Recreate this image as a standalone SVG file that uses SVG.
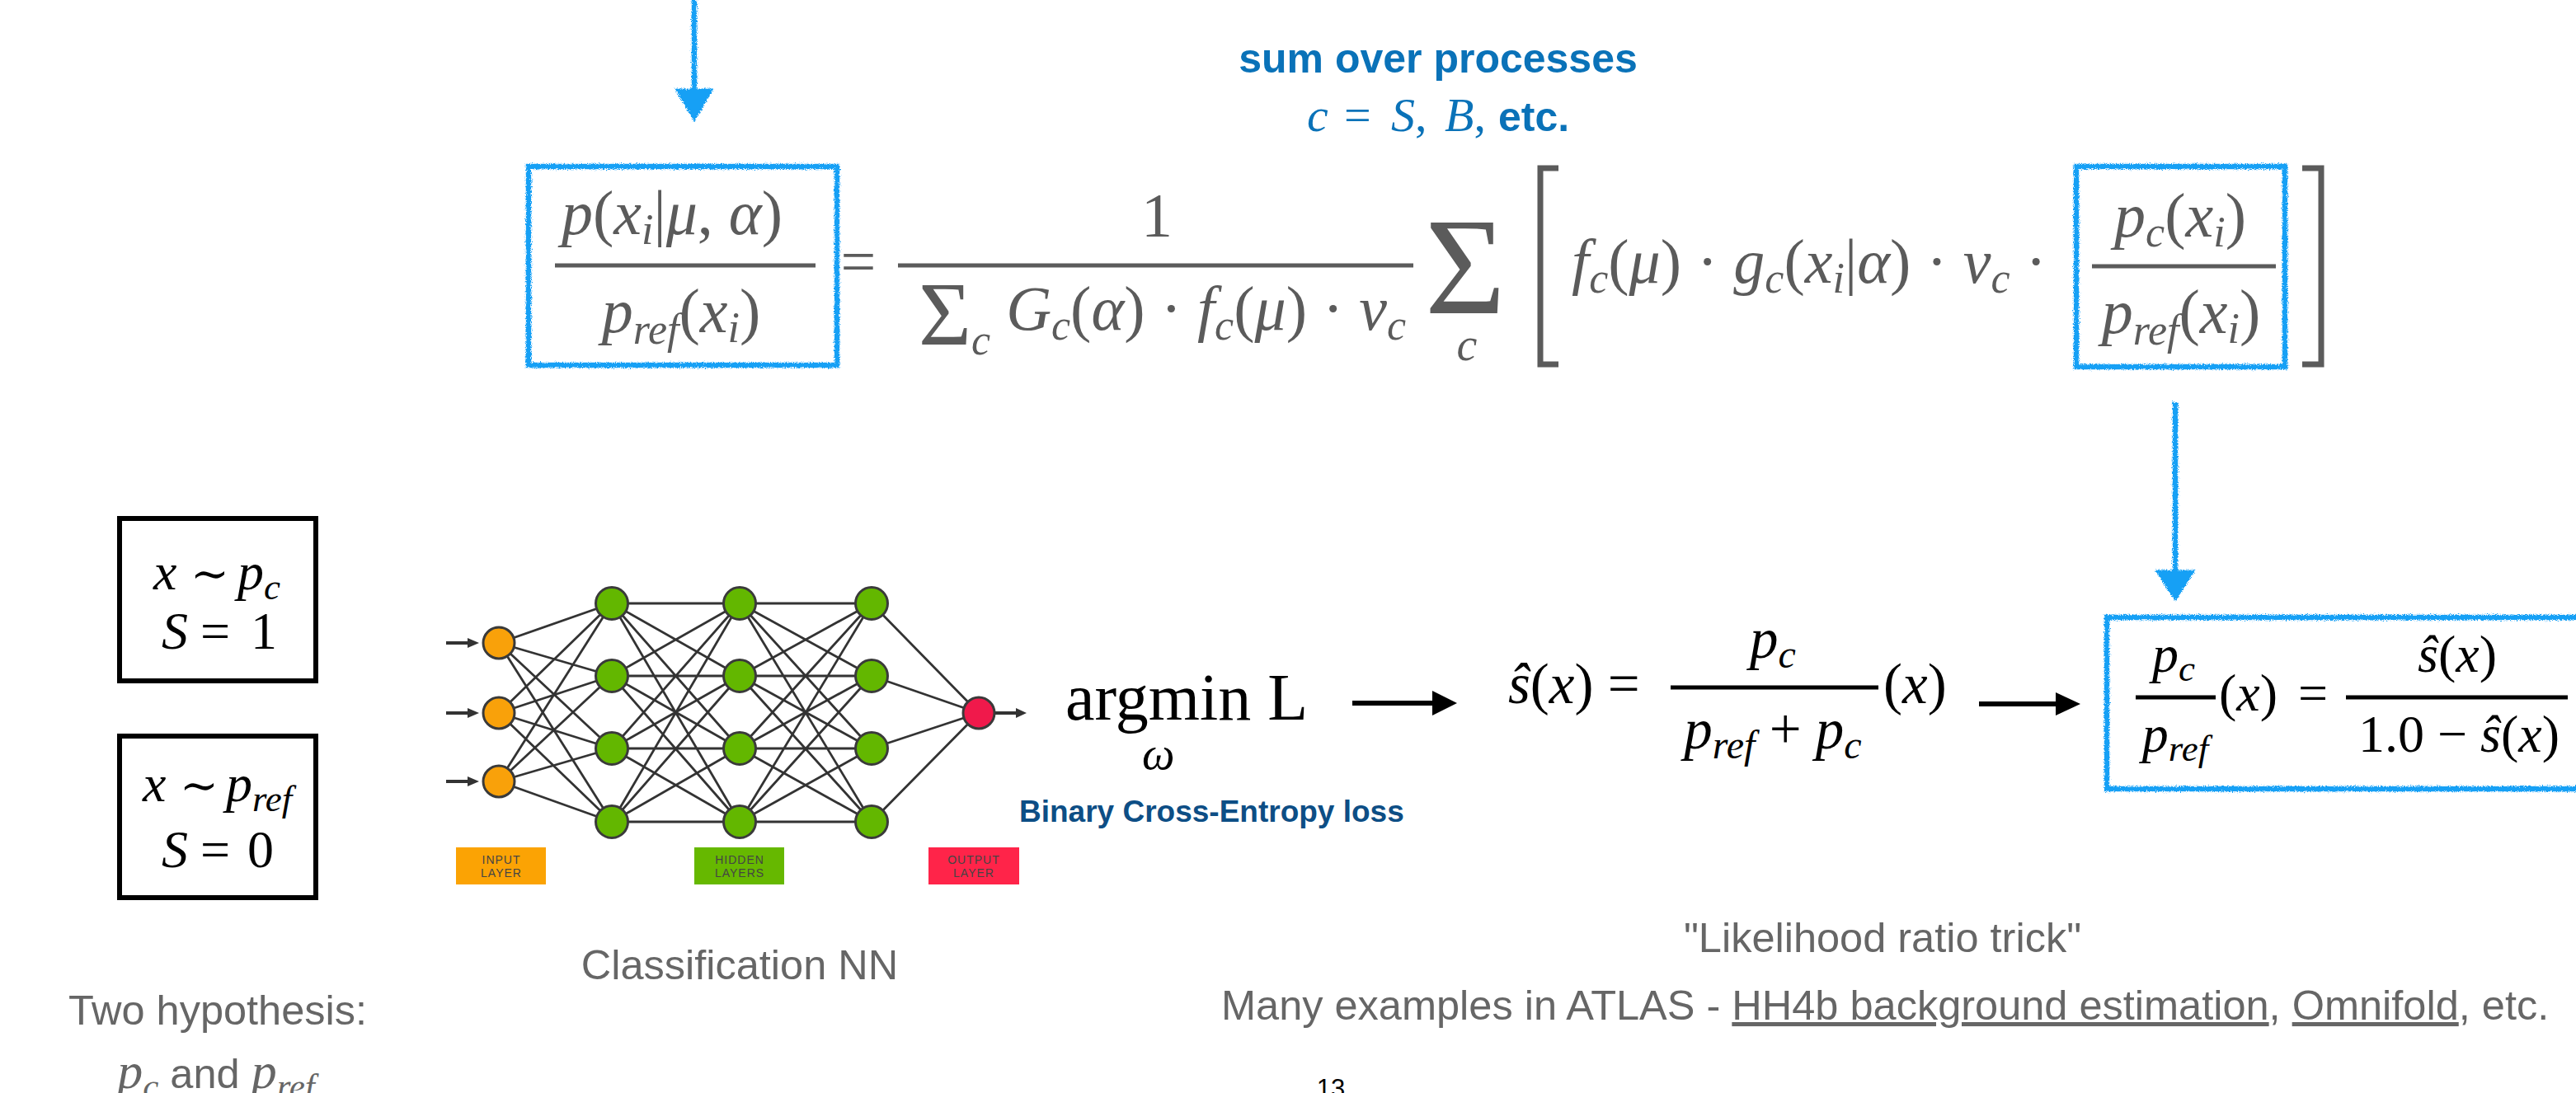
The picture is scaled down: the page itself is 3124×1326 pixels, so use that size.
<svg xmlns="http://www.w3.org/2000/svg" width="3124" height="1326" viewBox="0 0 3124 1326">
<style>
.m{font-family:"Liberation Serif","Times New Roman",serif;font-style:italic}
.u{font-style:normal}
.g{fill:#5b5b5b}
.k{fill:#000}
.s{font-family:"Liberation Sans",Arial,sans-serif}
.blue{fill:#0a72b8}
.sk{fill:none;stroke:#18a0f5;stroke-width:6.5}
.skf{fill:#18a0f5;stroke:#18a0f5;stroke-width:3}
.bar{stroke-width:5}
.edge{stroke:#333;stroke-width:2.8;fill:none}
.node{stroke:#3a3a3a;stroke-width:3}
.lbl{font-family:"Liberation Sans",Arial,sans-serif;font-size:14px;fill:#444;text-anchor:middle;letter-spacing:1px}
.cap{font-family:"Liberation Sans",Arial,sans-serif;fill:#666;font-size:50.5px}
.tl{font-family:"DejaVu Serif","Liberation Serif",serif;font-style:normal}
</style>
<defs>
<filter id="rough" filterUnits="userSpaceOnUse" x="0" y="0" width="3124" height="1326">
<feTurbulence type="fractalNoise" baseFrequency="0.9" numOctaves="2" seed="4" result="n"/>
<feDisplacementMap in="SourceGraphic" in2="n" scale="6" xChannelSelector="R" yChannelSelector="G"/>
</filter>
</defs>
<rect width="3124" height="1326" fill="#fff"/>

<!-- blue sketch annotations -->
<g id="highlights" filter="url(#rough)">
<rect class="sk" x="641" y="202" width="374" height="241"/>
<rect class="sk" x="2518" y="202" width="253" height="243"/>
<rect class="sk" x="2555" y="749" width="600" height="208"/>
</g>

<g id="connectors">
<g filter="url(#rough)">
<line class="sk" x1="842" y1="0" x2="842" y2="112"/>
<polygon class="skf" points="821,109 863,109 842,145"/>
<line class="sk" x1="2638" y1="488" x2="2638" y2="696"/>
<polygon class="skf" points="2616,693 2660,693 2638,727"/>
</g>
<line x1="1640" y1="853" x2="1740" y2="853" stroke="#000" stroke-width="6"/>
<polygon points="1737,838 1767,853 1737,868" fill="#000"/>
<line x1="2400" y1="854" x2="2496" y2="854" stroke="#000" stroke-width="6"/>
<polygon points="2493,840 2523,854 2493,868" fill="#000"/>
</g>

<!-- top equation -->
<g id="eq-top" class="m g" font-size="76">
<text x="815" y="284" text-anchor="middle">p<tspan class="u">(</tspan>x<tspan font-size="52" dy="12">i</tspan><tspan dy="-12" class="u">|</tspan>μ<tspan class="u">, </tspan>α<tspan class="u">)</tspan></text>
<line x1="673" y1="322" x2="989" y2="322" stroke="#5b5b5b" class="bar"/>
<text x="826" y="403" text-anchor="middle">p<tspan font-size="52" dy="14">ref</tspan><tspan dy="-14" class="u">(</tspan>x<tspan font-size="52" dy="12">i</tspan><tspan dy="-12" class="u">)</tspan></text>
<text x="1041" y="343" text-anchor="middle" class="u">=</text>
<text x="1403" y="287" text-anchor="middle" class="u">1</text>
<line x1="1089" y1="322" x2="1714" y2="322" stroke="#5b5b5b" class="bar"/>
<text x="1114" y="418"><tspan class="u" font-size="110">Σ</tspan><tspan font-size="52" dy="12">c</tspan><tspan dy="-30"> </tspan><tspan>G</tspan><tspan font-size="52" dy="12">c</tspan><tspan dy="-12" class="u">(</tspan>α<tspan class="u">) · </tspan>f<tspan font-size="52" dy="12">c</tspan><tspan dy="-12" class="u">(</tspan>μ<tspan class="u">) · </tspan>ν<tspan font-size="52" dy="12">c</tspan></text>
<text x="1777" y="380" text-anchor="middle" class="u" font-size="168">Σ</text>
<text x="1779" y="437" text-anchor="middle" font-size="56">c</text>
<path d="M1890,204 H1868 V442 H1890" fill="none" stroke="#5b5b5b" stroke-width="7"/>
<path d="M2792,204 H2815 V442 H2792" fill="none" stroke="#5b5b5b" stroke-width="7"/>
<text x="1906" y="343">f<tspan font-size="52" dy="12">c</tspan><tspan dy="-12" class="u">(</tspan>μ<tspan class="u">) · </tspan>g<tspan font-size="52" dy="12">c</tspan><tspan dy="-12" class="u">(</tspan>x<tspan font-size="52" dy="12">i</tspan><tspan dy="-12" class="u">|</tspan>α<tspan class="u">) · </tspan>ν<tspan font-size="52" dy="12">c</tspan><tspan dy="-12" class="u"> ·</tspan></text>
<text x="2644" y="287" text-anchor="middle">p<tspan font-size="52" dy="12">c</tspan><tspan dy="-12" class="u">(</tspan>x<tspan font-size="52" dy="12">i</tspan><tspan dy="-12" class="u">)</tspan></text>
<line x1="2537" y1="323" x2="2760" y2="323" stroke="#5b5b5b" class="bar"/>
<text x="2645" y="404" text-anchor="middle">p<tspan font-size="52" dy="14">ref</tspan><tspan dy="-14" class="u">(</tspan>x<tspan font-size="52" dy="12">i</tspan><tspan dy="-12" class="u">)</tspan></text>
</g>

<g id="sum-note" class="blue">
<text x="1744" y="88" text-anchor="middle" class="s" font-weight="bold" font-size="50">sum over processes</text>
<text y="159" class="m" font-size="58"><tspan x="1585">c</tspan><tspan x="1630" class="u">=</tspan><tspan x="1687">S</tspan><tspan class="u">,</tspan><tspan x="1752">B</tspan><tspan class="u">,</tspan><tspan x="1817" class="s u" font-weight="bold" font-size="50">etc.</tspan></text>
</g>

<!-- hypothesis boxes -->
<g id="box-signal">
<rect x="145" y="629" width="238" height="197" fill="none" stroke="#000" stroke-width="6"/>
<text y="715" class="m k" font-size="64"><tspan x="186">x</tspan><tspan x="231" class="tl" font-size="56">∼</tspan><tspan x="288">p</tspan><tspan font-size="45" dy="12">c</tspan></text>
<text y="787" class="m k" font-size="64"><tspan x="196">S</tspan><tspan x="243" class="u">=</tspan><tspan x="304" class="u">1</tspan></text>
</g>
<g id="box-ref">
<rect x="145" y="893" width="238" height="196" fill="none" stroke="#000" stroke-width="6"/>
<text y="972" class="m k" font-size="64"><tspan x="173">x</tspan><tspan x="218" class="tl" font-size="56">∼</tspan><tspan x="274">p</tspan><tspan font-size="45" dy="12">ref</tspan></text>
<text y="1052" class="m k" font-size="64"><tspan x="196">S</tspan><tspan x="243" class="u">=</tspan><tspan x="300" class="u">0</tspan></text>
</g>

<!-- neural network -->
<g id="nn-edges">
<path class="edge" d="M605 780L742 732M605 780L742 820M605 780L742 908M605 780L742 997M605 865L742 732M605 865L742 820M605 865L742 908M605 865L742 997M605 948L742 732M605 948L742 820M605 948L742 908M605 948L742 997
M742 732L897 732M742 732L897 820M742 732L897 908M742 732L897 997M742 820L897 732M742 820L897 820M742 820L897 908M742 820L897 997M742 908L897 732M742 908L897 820M742 908L897 908M742 908L897 997M742 997L897 732M742 997L897 820M742 997L897 908M742 997L897 997
M897 732L1057 732M897 732L1057 820M897 732L1057 908M897 732L1057 997M897 820L1057 732M897 820L1057 820M897 820L1057 908M897 820L1057 997M897 908L1057 732M897 908L1057 820M897 908L1057 908M897 908L1057 997M897 997L1057 732M897 997L1057 820M897 997L1057 908M897 997L1057 997
M1057 732L1187 865M1057 820L1187 865M1057 908L1187 865M1057 997L1187 865"/>
<path d="M541 780H569M541 865H569M541 948H569M1206 865H1234" stroke="#333" stroke-width="4" fill="none"/>
<path d="M567 774L581 780L567 786zM567 859L581 865L567 871zM567 942L581 948L567 954zM1232 859L1245 865L1232 871z" fill="#333"/>
</g>
<g id="nn-input" fill="#f9a10a">
<circle class="node" cx="605" cy="780" r="19"/>
<circle class="node" cx="605" cy="865" r="19"/>
<circle class="node" cx="605" cy="948" r="19"/>
</g>
<g id="nn-hidden" fill="#63b700">
<circle class="node" cx="742" cy="732" r="19.5"/><circle class="node" cx="742" cy="820" r="19.5"/><circle class="node" cx="742" cy="908" r="19.5"/><circle class="node" cx="742" cy="997" r="19.5"/>
<circle class="node" cx="897" cy="732" r="19.5"/><circle class="node" cx="897" cy="820" r="19.5"/><circle class="node" cx="897" cy="908" r="19.5"/><circle class="node" cx="897" cy="997" r="19.5"/>
<circle class="node" cx="1057" cy="732" r="19.5"/><circle class="node" cx="1057" cy="820" r="19.5"/><circle class="node" cx="1057" cy="908" r="19.5"/><circle class="node" cx="1057" cy="997" r="19.5"/>
</g>
<g id="nn-output">
<circle class="node" cx="1187" cy="865" r="19" fill="#f0194b"/>
</g>
<g id="legend-input">
<rect x="553" y="1028" width="109" height="45" fill="#fba304"/>
<text class="lbl" x="608" y="1048">INPUT</text><text class="lbl" x="608" y="1064">LAYER</text>
</g>
<g id="legend-hidden">
<rect x="842" y="1028" width="109" height="45" fill="#66b800"/>
<text class="lbl" x="897" y="1048">HIDDEN</text><text class="lbl" x="897" y="1064">LAYERS</text>
</g>
<g id="legend-output">
<rect x="1126" y="1028" width="110" height="45" fill="#ff2449"/>
<text class="lbl" x="1181" y="1048">OUTPUT</text><text class="lbl" x="1181" y="1064">LAYER</text>
</g>

<!-- argmin -->
<g id="argmin">
<text x="1292" y="873" font-family="Liberation Serif, serif" font-size="80" fill="#000">argmin L</text>
<text x="1385" y="933" class="m k" font-size="56">ω</text>
<text x="1236" y="997" class="s" font-weight="bold" font-size="37" fill="#0d4e85">Binary Cross-Entropy loss</text>
</g>

<!-- s hat -->
<g id="shat" class="m k" font-size="69">
<text x="1829" y="853">ŝ<tspan class="u">(</tspan>x<tspan class="u">) =</tspan></text>
<text x="2150" y="798" text-anchor="middle">p<tspan font-size="48" dy="12">c</tspan></text>
<line x1="2026" y1="834" x2="2278" y2="834" stroke="#000" class="bar"/>
<text x="2150" y="908" text-anchor="middle">p<tspan font-size="48" dy="12">ref</tspan><tspan dy="-12" class="u"> + </tspan>p<tspan font-size="48" dy="12">c</tspan></text>
<text x="2284" y="853"><tspan class="u">(</tspan>x<tspan class="u">)</tspan></text>
</g>

<!-- ratio -->
<g id="ratio" class="m k" font-size="64">
<text x="2636" y="815" text-anchor="middle">p<tspan font-size="45" dy="11">c</tspan></text>
<line x1="2590" y1="846" x2="2687" y2="846" stroke="#000" class="bar"/>
<text x="2638" y="912" text-anchor="middle">p<tspan font-size="45" dy="11">ref</tspan></text>
<text x="2691" y="862"><tspan class="u">(</tspan>x<tspan class="u">)</tspan></text>
<text x="2805" y="862" text-anchor="middle" class="u">=</text>
<text x="2980" y="815" text-anchor="middle">ŝ<tspan class="u">(</tspan>x<tspan class="u">)</tspan></text>
<line x1="2845" y1="846" x2="3114" y2="846" stroke="#000" class="bar"/>
<text x="2982" y="912" text-anchor="middle"><tspan class="u">1.0 − </tspan>ŝ<tspan class="u">(</tspan>x<tspan class="u">)</tspan></text>
</g>

<!-- captions -->
<g id="captions">
<text class="cap" x="897" y="1188" text-anchor="middle">Classification NN</text>
<text class="cap" x="2283" y="1155" text-anchor="middle">"Likelihood ratio trick"</text>
<text class="cap" x="1481" y="1237">Many examples in ATLAS - <tspan text-decoration="underline">HH4b background estimation</tspan>, <tspan text-decoration="underline">Omnifold</tspan>, etc.</text>
<text class="cap" x="264" y="1243" text-anchor="middle">Two hypothesis:</text>
<text class="cap" x="262" y="1320" text-anchor="middle"><tspan class="m" font-size="62">p</tspan><tspan class="m" font-size="43" dy="12">c</tspan><tspan dy="-12"> and </tspan><tspan class="m" font-size="62">p</tspan><tspan class="m" font-size="43" dy="12">ref</tspan></text>
<text x="1614" y="1331" text-anchor="middle" class="s" font-size="31" fill="#000">13</text>
</g>
</svg>
